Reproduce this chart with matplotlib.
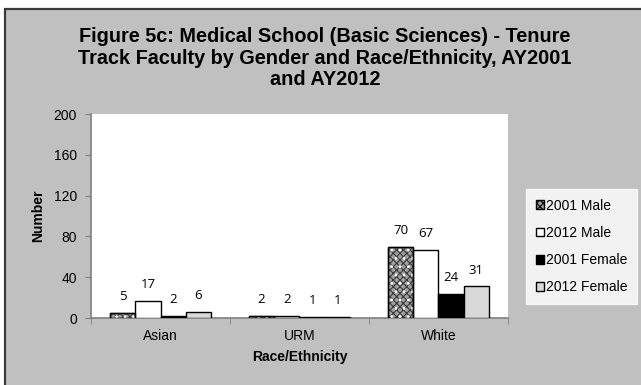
import matplotlib
matplotlib.use("Agg")
import matplotlib.pyplot as plt
from matplotlib.patches import Rectangle, Patch
import numpy as np

categories = ["Asian", "URM", "White"]
series_names = ["2001 Male", "2012 Male", "2001 Female", "2012 Female"]
male_2001 = [5, 2, 70]
male_2012 = [17, 2, 67]
female_2001 = [2, 1, 24]
female_2012 = [6, 1, 31]
y_ticks = [0, 40, 80, 120, 160, 200]

title = ("Figure 5c: Medical School (Basic Sciences) - Tenure\n"
         "Track Faculty by Gender and Race/Ethnicity, AY2001\n"
         "and AY2012")

plt.rcParams["font.family"] = ["Liberation Sans", "DejaVu Sans"]
plt.rcParams["hatch.linewidth"] = 0.8

W, H = 641, 385
fig = plt.figure(figsize=(W / 100, H / 100), dpi=100)
fig.patch.set_facecolor("white")

# gray chart frame behind everything
frame = Rectangle((5 / W, -0.05), 1.1, 1 - 9 / H + 0.05, transform=fig.transFigure,
                  facecolor="#c0c0c0", edgecolor="#3a3a3a", linewidth=1.6, zorder=-10)
fig.patches.append(frame)

ax = fig.add_axes([91 / W, 1 - 318 / H, (508 - 91) / W, (318 - 114) / H])
ax.set_facecolor("white")

series = [male_2001, male_2012, female_2001, female_2012]
styles = [
    dict(facecolor="#a0a0a0", hatch="xxxxx", edgecolor="#3a3a3a"),
    dict(facecolor="white", edgecolor="black"),
    dict(facecolor="black", edgecolor="black"),
    dict(facecolor="#d9d9d9", edgecolor="black"),
]

x = np.arange(len(categories))
bw = 1 / 5.5
offsets = (np.arange(4) - 1.5) * bw
for vals, st, off in zip(series, styles, offsets):
    ax.bar(x + off, vals, width=bw, linewidth=1.0, zorder=3, **st)
    if "hatch" in st:
        # white speckle over the hatch, then a dark outline
        ax.bar(x + off, vals, width=bw, facecolor="none", edgecolor="white",
               hatch="..", linewidth=0, zorder=3)
        ax.bar(x + off, vals, width=bw, facecolor="none", edgecolor="black",
               linewidth=1.0, zorder=4)
    for xi, v in zip(x + off, vals):
        ax.annotate(str(v), (xi, v), xytext=(0, 7), textcoords="offset points",
                    ha="center", va="bottom", fontsize=9.5, color="black",
                    family=["Open Sans", "DejaVu Sans"])

ax.set_xlim(-0.5, 2.5)
ax.set_ylim(0, 200)
ax.set_yticks(y_ticks)
ax.set_yticklabels([str(t) for t in y_ticks], fontsize=10)
ax.set_xticks(x)
ax.set_xticklabels(categories, fontsize=10)
ax.tick_params(axis="x", length=0, pad=8)
ax.set_xticks([-0.5, 0.5, 1.5, 2.5], minor=True)
ax.tick_params(axis="x", which="minor", length=4, color="#808080", direction="out")
ax.tick_params(axis="y", length=4, color="#808080", direction="out", pad=6)
for s in ["top", "right"]:
    ax.spines[s].set_visible(False)
for s in ["left", "bottom"]:
    ax.spines[s].set_color("#808080")
    ax.spines[s].set_linewidth(1.2)

ax.set_ylabel("Number", fontsize=10, fontweight="bold", labelpad=6)
ax.set_xlabel("Race/Ethnicity", fontsize=10, fontweight="bold", labelpad=5)

fig.text(325 / W, 1 - 27 / H, title, ha="center", va="top", fontsize=14.3,
         fontweight="bold", linespacing=1.18)

handles = []
for st, name in zip(styles, series_names):
    handles.append(Patch(label=name, linewidth=1.0, **st))
handles[0].set_edgecolor("black")
leg = fig.legend(handles=handles, loc="upper left",
                 bbox_to_anchor=(526 / W, 1 - 189 / H), frameon=True,
                 fancybox=False, fontsize=10, handlelength=0.6, handleheight=0.6,
                 handletextpad=0.15, labelspacing=0.95, borderpad=0.7,
                 borderaxespad=0)
leg.get_frame().set_facecolor("white")
leg.get_frame().set_edgecolor("white")

fig.savefig("out.png", dpi=100, facecolor=fig.get_facecolor())
